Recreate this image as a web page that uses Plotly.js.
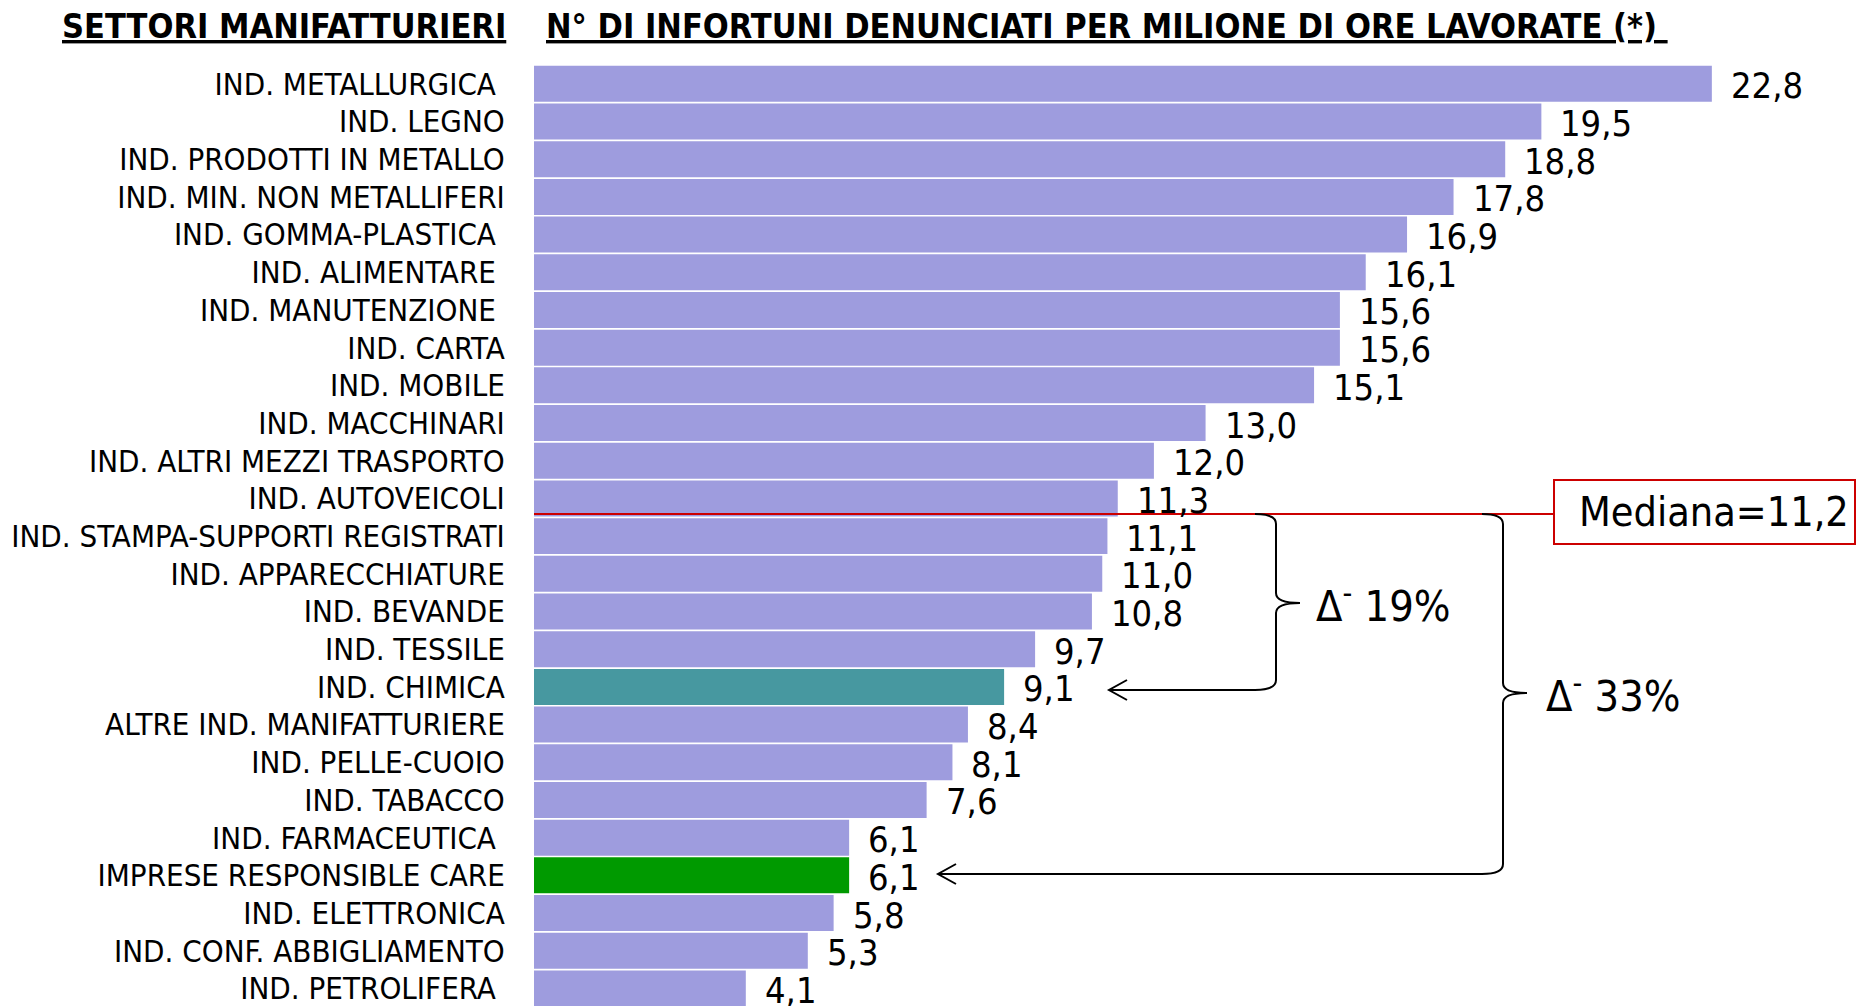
<!DOCTYPE html>
<html>
<head>
<meta charset="utf-8">
<script src="https://cdn.plot.ly/plotly-3.0.1.min.js"></script>
<style>html,body{margin:0;padding:0;background:#fff;}</style>
</head>
<body>
<div id="chart" style="width:1856px;height:1006px;"></div>
<script>
// ---- data ----
const categories = [
  "IND. METALLURGICA\u00a0", "IND. LEGNO", "IND. PRODOTTI IN METALLO", "IND. MIN. NON METALLIFERI",
  "IND. GOMMA-PLASTICA\u00a0", "IND. ALIMENTARE\u00a0", "IND. MANUTENZIONE\u00a0", "IND. CARTA",
  "IND. MOBILE", "IND. MACCHINARI", "IND. ALTRI MEZZI TRASPORTO", "IND. AUTOVEICOLI",
  "IND. STAMPA-SUPPORTI REGISTRATI", "IND. APPARECCHIATURE", "IND. BEVANDE", "IND. TESSILE",
  "IND. CHIMICA", "ALTRE IND. MANIFATTURIERE", "IND. PELLE-CUOIO", "IND. TABACCO",
  "IND. FARMACEUTICA\u00a0", "IMPRESE RESPONSIBLE CARE", "IND. ELETTRONICA", "IND. CONF. ABBIGLIAMENTO",
  "IND. PETROLIFERA\u00a0"
];
const values = [22.8, 19.5, 18.8, 17.8, 16.9, 16.1, 15.6, 15.6, 15.1, 13.0, 12.0, 11.3,
                11.1, 11.0, 10.8, 9.7, 9.1, 8.4, 8.1, 7.6, 6.1, 6.1, 5.8, 5.3, 4.1];
const median = 11.2;
const medianLabel = "Mediana=11,2";
const delta1Label = "\u0394<sup>-</sup> 19%";
const delta2Label = "\u0394<sup>-</sup> 33%";
const titleLeft = "SETTORI MANIFATTURIERI";
const titleRight = "N° DI INFORTUNI DENUNCIATI PER MILIONE DI ORE LAVORATE (*)";

// ---- styles ----
const FONT = "DejaVu Sans Condensed, DejaVu Sans, sans-serif";
const baseColor = "#9E9CDE";
const highlight = {"IND. CHIMICA": "#4798A0", "IMPRESE RESPONSIBLE CARE": "#009A00"};
const colors = categories.map(c => highlight[c] || baseColor);

// geometry (pixels)
const LEFT = 534, TOP = 65, W = 1856, H = 1006;
const UNIT = 51.66;       // px per x unit
const PITCH = 37.69;      // px per category row
const xMax = (W - LEFT) / UNIT;
const yMax = (H - TOP) / PITCH - 0.5;
const X = px => (px - LEFT) / UNIT;
const Y = py => (py - TOP) / PITCH - 0.5;
const P = (px, py) => X(px).toFixed(4) + "," + Y(py).toFixed(4);

const idx = categories.map((c, i) => i);

const trace = {
  type: "bar", orientation: "h",
  x: values, y: idx,
  marker: {color: colors, line: {width: 0}},
  hoverinfo: "skip"
};

const fmt = v => v.toFixed(1).replace(".", ",");
const annotations = values.map((v, i) => ({
  x: v, y: i, xref: "x", yref: "y", text: fmt(v), showarrow: false,
  xanchor: "left", yanchor: "middle", xshift: 17, yshift: -2,
  font: {family: FONT, size: 36, color: "#000"}
}));

const medY = Y(514);
annotations.push(
  {xref: "paper", yref: "paper", x: (508 - LEFT) / (W - LEFT), y: 1 + (TOP - 26) / (H - TOP),
   xanchor: "right", yanchor: "middle", showarrow: false,
   text: "<b><u>" + titleLeft + "</u></b>", font: {family: FONT, size: 34, color: "#000"}},
  {xref: "paper", yref: "paper", x: (544 - LEFT) / (W - LEFT), y: 1 + (TOP - 26) / (H - TOP),
   xanchor: "left", yanchor: "middle", showarrow: false,
   text: "<b><u>" + titleRight + "\u00a0</u></b>", font: {family: FONT, size: 34, color: "#000"}},
  {x: X(1577), y: Y(512), xanchor: "left", yanchor: "middle", showarrow: false,
   text: medianLabel, font: {family: FONT, size: 41, color: "#000"}},
  {x: X(1314), y: Y(603), xanchor: "left", yanchor: "middle", showarrow: false,
   text: delta1Label, font: {family: FONT, size: 43, color: "#000"}},
  {x: X(1544), y: Y(693), xanchor: "left", yanchor: "middle", showarrow: false,
   text: delta2Label, font: {family: FONT, size: 43, color: "#000"}}
);

const red = "#CC0000";
const blk = {color: "#000", width: 2};
const brace = (bx, yTop, yMid, yBot, tip) =>
  "M" + P(bx - 21, yTop) + " Q" + P(bx, yTop) + " " + P(bx, yTop + 10) +
  " L" + P(bx, yMid - 10) + " Q" + P(bx, yMid) + " " + P(bx + 24, yMid) +
  " Q" + P(bx, yMid) + " " + P(bx, yMid + 10) +
  " L" + P(bx, yBot - 10) + " Q" + P(bx, yBot) + " " + P(bx - 21, yBot) +
  " L" + P(tip, yBot);
const head = (tip, y) => "M" + P(tip + 18, y - 10) + " L" + P(tip, y) + " L" + P(tip + 18, y + 10);

const shapes = [
  {type: "line", xref: "x", yref: "y", x0: 0, x1: X(1554), y0: medY, y1: medY, line: {color: red, width: 2}},
  {type: "rect", xref: "x", yref: "y", x0: X(1554), x1: X(1855), y0: Y(480), y1: Y(544), line: {color: red, width: 2}, fillcolor: "rgba(0,0,0,0)"},
  {type: "path", xref: "x", yref: "y", path: brace(1276, 514, 603, 690, 1109), line: blk},
  {type: "path", xref: "x", yref: "y", path: head(1109, 690), line: blk},
  {type: "path", xref: "x", yref: "y", path: brace(1503, 514, 693, 874, 938), line: blk},
  {type: "path", xref: "x", yref: "y", path: head(938, 874), line: blk}
];

const layout = {
  width: W, height: H,
  margin: {l: LEFT, r: 0, t: TOP, b: 0, pad: 0},
  paper_bgcolor: "#fff", plot_bgcolor: "#fff",
  showlegend: false,
  bargap: 0.045,
  xaxis: {range: [0, xMax], visible: false, fixedrange: true},
  yaxis: {range: [yMax, -0.5], tickmode: "array", tickvals: idx, ticktext: categories,
          ticks: "outside", ticklen: 22, tickcolor: "rgba(0,0,0,0)",
          ticklabeloverflow: "allow",
          showgrid: false, zeroline: false, showline: false, fixedrange: true,
          tickfont: {family: FONT, size: 31, color: "#000"}},
  annotations: annotations,
  shapes: shapes
};

Plotly.newPlot("chart", [trace], layout, {staticPlot: true, displayModeBar: false});
</script>
</body>
</html>
